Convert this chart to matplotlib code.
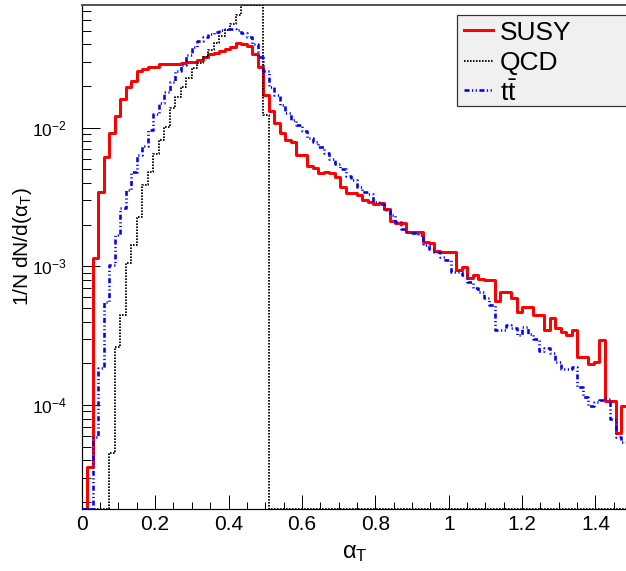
import numpy as np
import matplotlib
matplotlib.use('Agg')
import matplotlib.pyplot as plt
from matplotlib.ticker import MultipleLocator, LogLocator, FuncFormatter, NullFormatter
from matplotlib.lines import Line2D
from matplotlib.patches import Rectangle

plt.rcParams['font.family'] = ['Liberation Sans', 'DejaVu Sans']
plt.rcParams['mathtext.fontset'] = 'custom'
plt.rcParams['mathtext.rm'] = 'Liberation Sans'
plt.rcParams['mathtext.it'] = 'Liberation Sans:italic'
plt.rcParams['mathtext.bf'] = 'Liberation Sans:bold'
plt.rcParams['mathtext.sf'] = 'Liberation Sans'
plt.rcParams['lines.scale_dashes'] = False

# ---------------- data ----------------
x_min, x_max, n_bins = 0.0, 1.5, 100
labels = ['SUSY', 'QCD', r'$\mathrm{t\bar{t}}$']

susy = [0, 3.6e-5, 1.15e-3, 3.45e-3, 6.2e-3, 9.2e-3, 0.0121, 0.016, 0.0196, 0.0217,
        0.0257, 0.0265, 0.0275, 0.0276, 0.0290, 0.0290, 0.0289, 0.0287, 0.0292, 0.0298,
        0.0298, 0.0307, 0.0325, 0.0338, 0.0345, 0.0355, 0.0368, 0.0380, 0.0410, 0.0402,
        0.0390, 0.0342, 0.0275, 0.0173, 0.0133, 0.0109, 0.0092, 0.0082, 0.0079, 0.00635,
        0.00635, 0.0053, 0.0051, 0.0047, 0.00477, 0.0047, 0.00443, 0.00375, 0.0034, 0.0034,
        0.0033, 0.0030, 0.0029, 0.0028, 0.00285, 0.0026, 0.00214, 0.00205, 0.00207, 0.00178,
        0.00178, 0.00178, 0.0015, 0.00147, 0.0013, 0.00126, 0.00126, 0.00126, 0.00094, 0.000985,
        0.00082, 0.000864, 0.000805, 0.000796, 0.000796, 0.000565, 0.000657, 0.000657, 0.000587, 0.000471,
        0.000512, 0.000512, 0.000446, 0.000446, 0.000347, 0.000422, 0.000357, 0.000338, 0.000322, 0.000347,
        0.000223, 0.000223, 0.000199, 0.000205, 0.000293, 0.000107, 0.000107, 0.000063, 0.000098, 0.00009]

qcd = [0, 0, 0, 0, 0, 4.5e-5, 2.63e-4, 4.46e-4, 1.05e-3, 1.43e-3,
       2.28e-3, 3.86e-3, 4.8e-3, 6.5e-3, 8.15e-3, 0.0102, 0.0138, 0.0168, 0.0198, 0.0227,
       0.0268, 0.0292, 0.0322, 0.0364, 0.0406, 0.0459, 0.0507, 0.056, 0.065, 0.08,
       0.09, 0.095, 0.09, 0.0124, 0, 0, 0, 0, 0, 0,
       0, 0, 0, 0, 0, 0, 0, 0, 0, 0,
       0, 0, 0, 0, 0, 0, 0, 0, 0, 0,
       0, 0, 0, 0, 0, 0, 0, 0, 0, 0,
       0, 0, 0, 0, 0, 0, 0, 0, 0, 0,
       0, 0, 0, 0, 0, 0, 0, 0, 0, 0,
       0, 0, 0, 0, 0, 0, 0, 0, 0, 0]

ttbar = [0, 0, 5.9e-5, 1.84e-4, 5.56e-4, 1.02e-3, 1.68e-3, 2.62e-3, 3.55e-3, 4.82e-3,
         6.35e-3, 7.4e-3, 9.6e-3, 0.0125, 0.0150, 0.0180, 0.0215, 0.0256, 0.0285, 0.0335,
         0.0380, 0.0420, 0.0448, 0.0475, 0.0490, 0.0505, 0.0515, 0.0515, 0.0505, 0.0485,
         0.0455, 0.0400, 0.0325, 0.0255, 0.0198, 0.0172, 0.0146, 0.0128, 0.0114, 0.0105,
         0.0094, 0.0085, 0.0079, 0.0073, 0.0066, 0.0060, 0.0055, 0.0050, 0.00448, 0.0042,
         0.00375, 0.00345, 0.00332, 0.00292, 0.00284, 0.00255, 0.00234, 0.00209, 0.00187, 0.00178,
         0.00175, 0.00168, 0.00143, 0.00133, 0.00128, 0.00116, 0.00111, 0.000914, 0.00091, 0.000864,
         0.000774, 0.000693, 0.000657, 0.000587, 0.000526, 0.000347, 0.000347, 0.000377, 0.000357, 0.000319,
         0.000367, 0.000328, 0.000302, 0.000245, 0.000256, 0.000238, 0.000205, 0.000181, 0.000182, 0.000189,
         0.000135, 0.000115, 0.000098, 0.000105, 0.000109, 0.000111, 0.00008, 0.000059, 0.000054, 0.00005]

# ---------------- figure ----------------
W, H = 626, 571
fig = plt.figure(figsize=(W / 100, H / 100), dpi=100)
def fx(px): return px / W
def fy(py): return 1 - py / H

ax = fig.add_axes([fx(81.7), fy(509), 550.5 / W, 504 / H])
ymin, ymax = 1.78e-5, 0.0768
edges = np.linspace(x_min, x_max, n_bins + 1)

def draw(vals, **kw):
    v = np.clip(np.asarray(vals, float), ymin, ymax)
    ax.step(edges, np.append(v, v[-1]), where='post', clip_on=True, **kw)

PT = 0.72
red_style = dict(color='#ff0000', lw=3 * PT)
qcd_style = dict(color='black', lw=1.8 * PT, linestyle=(0, (1.6 * PT, 1.4 * PT)))
tt_style = dict(color='#0000ff', lw=2.6 * PT,
                linestyle=(0, (5 * PT, 2.5 * PT, 1.2 * PT, 2.5 * PT, 1.2 * PT, 2.5 * PT)))

draw(susy, zorder=3, **red_style)
draw(qcd, zorder=4, **qcd_style)
draw(ttbar, zorder=5, **tt_style)

ax.set_yscale('log')
ax.set_xlim(x_min, x_max)
ax.set_ylim(ymin, ymax)

ax.xaxis.set_major_locator(MultipleLocator(0.2))
ax.xaxis.set_minor_locator(MultipleLocator(0.05))
ax.xaxis.set_major_formatter(FuncFormatter(lambda v, p: '%g' % round(v, 3)))
ax.yaxis.set_major_locator(LogLocator(base=10, numticks=20))
ax.yaxis.set_minor_locator(LogLocator(base=10, subs=np.arange(2, 10), numticks=20))
ax.yaxis.set_minor_formatter(NullFormatter())
ax.yaxis.set_major_formatter(FuncFormatter(lambda v, p: r'$\mathrm{10^{%d}}$' % round(np.log10(v))))

ax.tick_params(axis='x', which='major', direction='in', length=14 * PT, width=1 * PT,
               labelsize=15, pad=4.5, top=False)
ax.tick_params(axis='x', which='minor', direction='in', length=7 * PT, width=1 * PT, top=False)
ax.tick_params(axis='y', which='major', direction='in', length=17.5 * PT, width=1 * PT,
               labelsize=12.5, pad=10.5, right=False)
ax.tick_params(axis='y', which='minor', direction='in', length=9 * PT, width=1 * PT, right=False)

for s in ['left', 'bottom']:
    ax.spines[s].set_color('black')
    ax.spines[s].set_linewidth(1.2 * PT)
ax.spines['top'].set_color('#555555')
ax.spines['top'].set_linewidth(2 * PT)
ax.spines['right'].set_color('#555555')

ax.set_ylabel(r'1/N dN/d($\mathrm{\alpha_{T}}$)', fontsize=15)
ax.yaxis.set_label_coords(-0.087, 0.52)
ax.set_xlabel(r'$\mathrm{\alpha_{T}}$', fontsize=17)
ax.xaxis.set_label_coords(0.496, -0.066)

# ---------------- legend (ROOT TLegend style) ----------------
fig.add_artist(Rectangle((fx(457), fy(106)), fx(650) - fx(457), fy(15) - fy(106),
                         transform=fig.transFigure, facecolor='#f0f0f0',
                         edgecolor='#333333', lw=1.2 * PT, clip_on=False, zorder=10))
line_y = [30, 61, 90]
text_y = [40, 70, 101]
for lab, st, ly, ty in zip(labels, [red_style, qcd_style, tt_style], line_y, text_y):
    fig.add_artist(Line2D([fx(464), fx(493)], [fy(ly), fy(ly)], transform=fig.transFigure,
                          zorder=11, **st))
    fig.text(fx(500), fy(ty), lab, fontsize=19, va='baseline', ha='left', zorder=12)

fig.savefig('out.png', dpi=100)
